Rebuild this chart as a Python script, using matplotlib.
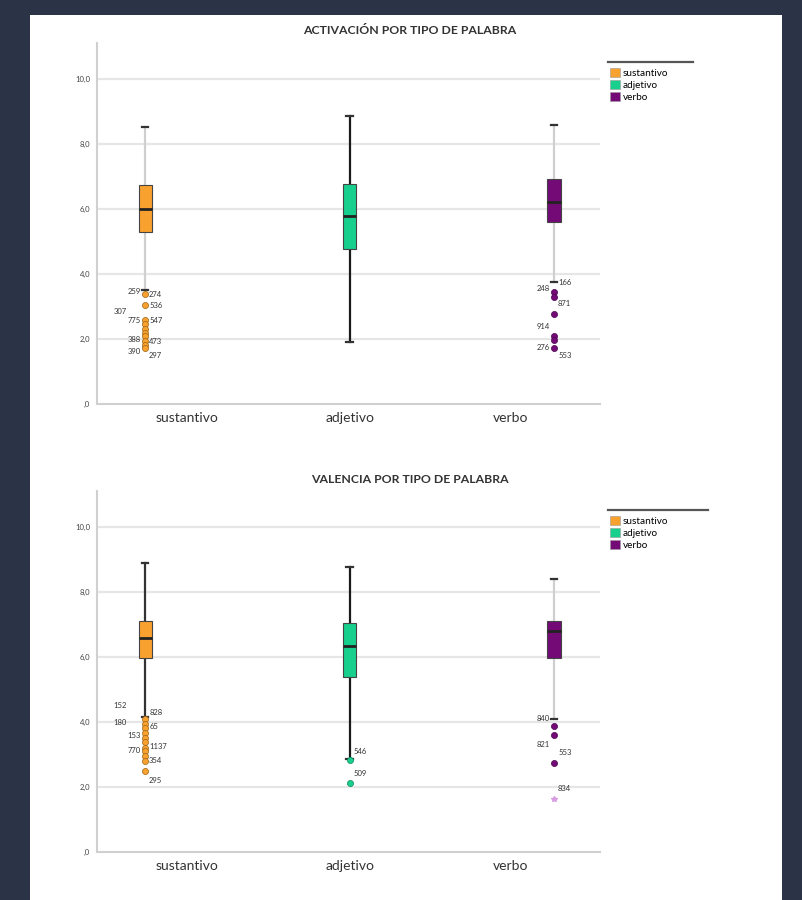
import numpy as np
import matplotlib.pyplot as plt
from matplotlib.patches import Patch, Rectangle
from matplotlib.lines import Line2D

plt.rcParams['font.family'] = ['Lato', 'DejaVu Sans']

categorias = ['sustantivo', 'adjetivo', 'verbo']
colores = ['#f9a12e', '#17d08e', '#730a76']
bordes = ['#9a6418', '#0e8a5e', '#4a0550']
yticks = [0, 2, 4, 6, 8, 10]
ytick_labels = [',0', '2,0', '4,0', '6,0', '8,0', '10,0']

# ACTIVACION: mediana, cuartiles, bigotes
act_med = [6.0, 5.78, 6.22]
act_q1 = [5.29, 4.77, 5.6]
act_q3 = [6.74, 6.77, 6.92]
act_wlo = [3.5, 1.9, 3.75]
act_whi = [8.52, 8.86, 8.58]
act_out = [[3.4, 3.05, 2.58, 2.45, 2.32, 2.2, 2.08, 1.95, 1.83, 1.72],
           [],
           [3.45, 3.3, 2.77, 2.1, 1.98, 1.72]]
act_ext = [[], [], []]
act_lab = [['259', '274', '536', '307', '775', '547', '388', '473', '390', '297'],
           [],
           ['166', '248', '871', '914', '276', '553']]
act_lab_y = [[3.45, 3.38, 3.02, 2.86, 2.58, 2.58, 2.0, 1.91, 1.63, 1.48],
             [],
             [3.75, 3.54, 3.08, 2.37, 1.75, 1.48]]
act_lab_side = [['l', 'r', 'r', 'L', 'l', 'r', 'l', 'r', 'l', 'r'],
                [],
                ['r', 'l', 'r', 'l', 'l', 'r']]

# VALENCIA
val_med = [6.6, 6.35, 6.8]
val_q1 = [5.98, 5.37, 5.98]
val_q3 = [7.12, 7.06, 7.12]
val_wlo = [4.15, 2.85, 4.1]
val_whi = [8.9, 8.77, 8.4]
val_out = [[4.08, 3.94, 3.82, 3.66, 3.52, 3.38, 3.2, 3.1, 2.95, 2.8, 2.5],
           [2.82, 2.12],
           [3.88, 3.6, 2.73]]
val_ext = [[], [], [1.63]]
val_lab = [['152', '828', '180', '65', '153', '1137', '770', '354', '295'],
           ['546', '509'],
           ['840', '821', '553', '834']]
val_lab_y = [[4.5, 4.3, 3.99, 3.87, 3.59, 3.25, 3.13, 2.82, 2.2],
             [3.1, 2.42],
             [4.1, 3.31, 3.07, 1.96]]
val_lab_side = [['L', 'r', 'L', 'r', 'l', 'r', 'l', 'r', 'r'],
                ['r', 'r'],
                ['l', 'l', 'r', 'r']]

fig = plt.figure(figsize=(8.02, 9.0), dpi=100, facecolor='#2b3446')
fig.add_artist(Rectangle((30/802, 0), 752/802, 885/900, transform=fig.transFigure,
                         facecolor='white', edgecolor='none', zorder=0))

W, H = 802, 900


def panel(top, bottom, title, med, q1, q3, wlo, whi, out, ext, lab, lab_y, side,
          whisk_cols, legend_right):
    ax = fig.add_axes([97/W, 1 - bottom/H, (600-97)/W, (bottom-top)/H])
    ax.set_facecolor('none')
    stats = []
    for i in range(3):
        stats.append(dict(med=med[i], q1=q1[i], q3=q3[i], whislo=wlo[i],
                          whishi=whi[i], fliers=[]))
    bp = ax.bxp(stats, positions=[0, 1, 2], widths=0.064, patch_artist=True,
                showfliers=False, capwidths=0.03,
                medianprops=dict(color='#222222', lw=2),
                boxprops=dict(lw=0.8, edgecolor='#444444'))
    for i, b in enumerate(bp['boxes']):
        b.set_facecolor(colores[i])
        b.set_zorder(3)
    for i in range(3):
        for w in bp['whiskers'][2*i:2*i+2]:
            w.set_color(whisk_cols[i])
            w.set_linewidth(1.6)
            w.set_zorder(2)
        for c in bp['caps'][2*i:2*i+2]:
            c.set_color('#333333')
            c.set_linewidth(1.6)
        bp['medians'][i].set_zorder(4)
        ax.plot([i]*len(out[i]), out[i], 'o', ms=4.4, mfc=colores[i],
                mec=bordes[i], mew=0.5, zorder=5)
        ax.plot([i]*len(ext[i]), ext[i], '*', ms=4, color='#d69be0', zorder=5)
        for t, y, s in zip(lab[i], lab_y[i], side[i]):
            if s == 'r':
                ax.text(i + 0.02, y, t, fontsize=5.5, color='#333333',
                        ha='left', va='center')
            elif s == 'l':
                ax.text(i - 0.02, y, t, fontsize=5.5, color='#333333',
                        ha='right', va='center')
            else:
                ax.text(i - 0.09, y, t, fontsize=5.5, color='#333333',
                        ha='right', va='center')
    ax.set_xlim(-0.235, 2.225)
    ax.set_ylim(0, (bottom - top) / 32.5)
    ax.set_yticks(yticks)
    ax.set_yticklabels(ytick_labels, fontsize=5.5, color='#444444')
    ax.set_xticks([0.205, 1.005, 1.79])
    ax.set_xticklabels(categorias, fontsize=10, color='#333333')
    ax.tick_params(length=0, pad=6)
    ax.tick_params(axis='y', pad=5)
    for y in yticks[1:]:
        ax.axhline(y, color='#e6e6e6', lw=1.6, zorder=0)
    for s in ['top', 'right']:
        ax.spines[s].set_visible(False)
    ax.spines['left'].set_color('#d0d0d0')
    ax.spines['bottom'].set_color('#d0d0d0')
    ax.spines['left'].set_linewidth(1.5)
    ax.spines['bottom'].set_linewidth(1.5)
    fig.text(410/W, 1 - (top - 12)/H, title, fontsize=8.8, fontweight='bold',
             ha='center', va='center', color='#333333')
    fig.add_artist(Line2D([608/W, legend_right/W], [1 - (top + 19)/H] * 2,
                          color='#555555', lw=1.6, transform=fig.transFigure))
    handles = [Patch(facecolor=colores[i], edgecolor='#999999', lw=0.4,
                     label=categorias[i]) for i in range(3)]
    fig.legend(handles=handles, loc='upper left',
               bbox_to_anchor=(608/W, 1 - (top + 23)/H), frameon=False,
               fontsize=7.2, handlelength=1.0, handleheight=1.0,
               handletextpad=0.3, labelspacing=0.2, borderaxespad=0,
               borderpad=0.2)
    return ax


panel(43, 404, 'ACTIVACIÓN POR TIPO DE PALABRA', act_med, act_q1, act_q3,
      act_wlo, act_whi, act_out, act_ext, act_lab, act_lab_y, act_lab_side,
      ['#cfcfcf', '#1a1a1a', '#cfcfcf'], 693)
panel(491, 852, 'VALENCIA POR TIPO DE PALABRA', val_med, val_q1, val_q3,
      val_wlo, val_whi, val_out, val_ext, val_lab, val_lab_y, val_lab_side,
      ['#333333', '#1a1a1a', '#cfcfcf'], 708)

fig.savefig('out.png', dpi=100, facecolor=fig.get_facecolor())
